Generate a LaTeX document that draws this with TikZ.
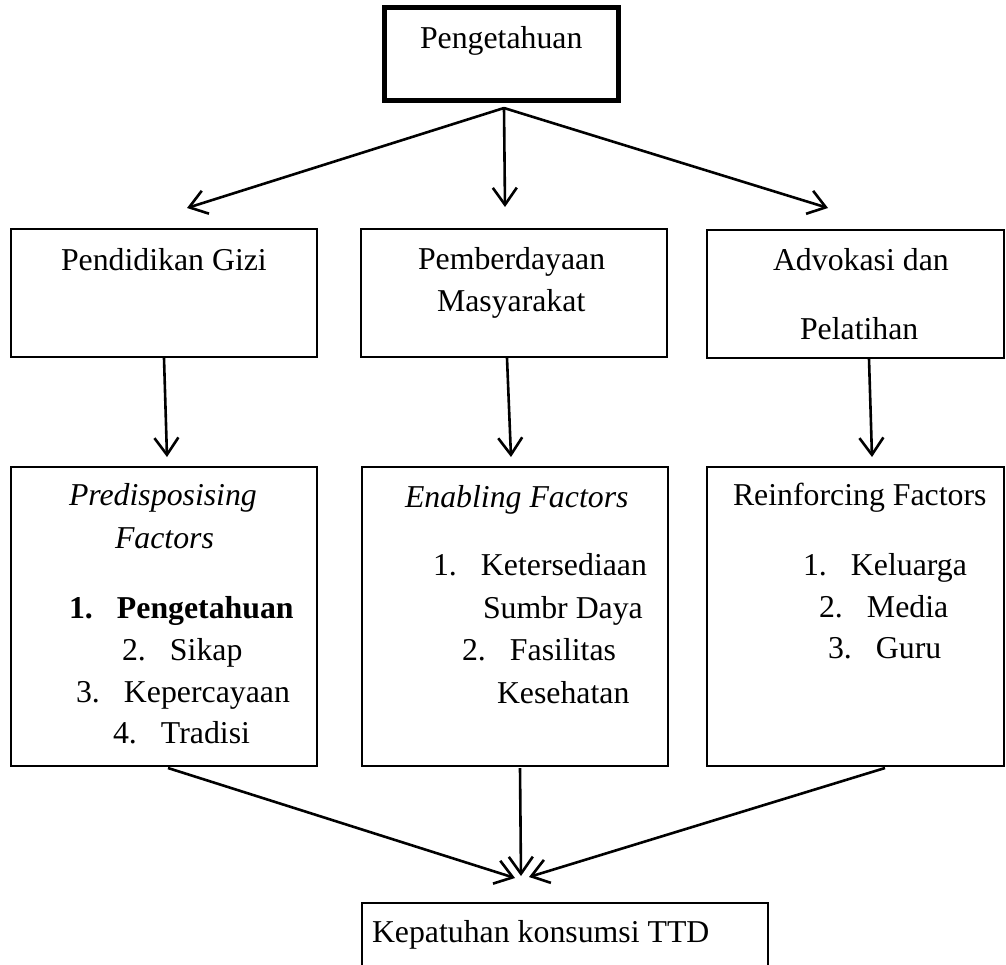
\documentclass[tikz,border=0pt]{standalone}
\usepackage{fontspec}
\setmainfont{Liberation Serif}
\usetikzlibrary{arrows.meta}
\tikzset{
  box/.style={draw=black, line width=1.4pt, rectangle, inner sep=0pt, outer sep=0pt},
  topbox/.style={draw=black, line width=5pt, rectangle, inner sep=0pt, outer sep=0pt},
  txt/.style={font=\fontsize{31.8pt}{38pt}\selectfont, inner sep=0pt, outer sep=0pt, anchor=base west},
  arr/.style={draw=black, line width=2.6pt, -{Straight Barb[length=17pt,width=24pt,line width=2.6pt]}},
}
\newcommand{\itm}[2]{\makebox[48pt][l]{#1}#2}
\begin{document}
\begin{tikzpicture}[x=1pt,y=-1pt]
\useasboundingbox (0,0) rectangle (1006,964);
\clip (0,0) rectangle (1006,964);
% boxes
\node[topbox, minimum width=234pt, minimum height=93pt] (T) at (501,53.5) {};
\node[box, minimum width=306pt, minimum height=128pt] (A) at (164,293) {};
\node[box, minimum width=306pt, minimum height=128pt] (B) at (514,293) {};
\node[box, minimum width=297pt, minimum height=128pt] (C) at (855.5,294) {};
\node[box, minimum width=306pt, minimum height=299pt] (D) at (164,616.5) {};
\node[box, minimum width=306pt, minimum height=299pt] (E) at (515,616.5) {};
\node[box, minimum width=297pt, minimum height=299pt] (F) at (855.5,616.5) {};
\node[box, minimum width=406pt, minimum height=97pt] (G) at (565,951.5) {};
% texts
\node[txt] (tT) at (420,48) {Pengetahuan};
\node[txt] (tA) at (61,270) {Pendidikan Gizi};
\node[txt] (tB1) at (418,269) {Pemberdayaan};
\node[txt] (tB2) at (437,311) {Masyarakat};
\node[txt] (tC1) at (773,270) {Advokasi dan};
\node[txt] (tC2) at (800,339) {Pelatihan};
\node[txt] (tD1) at (69,505) {\itshape Predisposising};
\node[txt] (tD2) at (115,548) {\itshape Factors};
\node[txt] (tD3) at (69,618) {\bfseries\itm{1.}{Pengetahuan}};
\node[txt] (tD4) at (122,660) {\itm{2.}{Sikap}};
\node[txt] (tD5) at (76,702) {\itm{3.}{Kepercayaan}};
\node[txt] (tD6) at (113,743) {\itm{4.}{Tradisi}};
\node[txt] (tE1) at (405,507) {\itshape Enabling Factors};
\node[txt] (tE2) at (433,575) {\itm{1.}{Ketersediaan}};
\node[txt] (tE3) at (483,618) {Sumbr Daya};
\node[txt] (tE4) at (462,660) {\itm{2.}{Fasilitas}};
\node[txt] (tE5) at (497,703) {Kesehatan};
\node[txt] (tF1) at (733,505) {Reinforcing Factors};
\node[txt] (tF2) at (803,575) {\itm{1.}{Keluarga}};
\node[txt] (tF3) at (819,617) {\itm{2.}{Media}};
\node[txt] (tF4) at (828,658) {\itm{3.}{Guru}};
\node[txt] (tG) at (372,942) {Kepatuhan konsumsi TTD};
% connector end points
\coordinate (o) at (504,108);
\coordinate (tipA) at (187,208);
\coordinate (tipB) at (505,207);
\coordinate (tipC) at (828,208);
\coordinate (sA) at (164,358);
\coordinate (eA) at (167,457);
\coordinate (sB) at (507,358);
\coordinate (eB) at (511,457);
\coordinate (sC) at (869,359);
\coordinate (eC) at (872,457);
\coordinate (sD) at (168,768);
\coordinate (eD) at (515,878);
\coordinate (sE) at (520,768);
\coordinate (eE) at (521,876);
\coordinate (sF) at (885,768);
\coordinate (eF) at (529,877);
% connectors
\draw[arr] (o) -- (tipA);
\draw[arr] (o) -- (tipB);
\draw[arr] (o) -- (tipC);
\draw[arr] (sA) -- (eA);
\draw[arr] (sB) -- (eB);
\draw[arr] (sC) -- (eC);
\draw[arr] (sD) -- (eD);
\draw[arr] (sE) -- (eE);
\draw[arr] (sF) -- (eF);
\end{tikzpicture}
\end{document}
